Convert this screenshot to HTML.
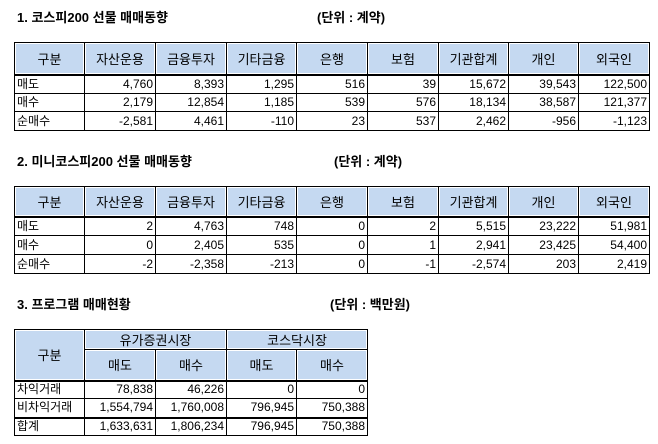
<!DOCTYPE html>
<html><head><meta charset="utf-8"><style>
body{margin:0;width:658px;height:444px;background:#fff;position:relative;overflow:hidden;font-family:"Liberation Sans","Malgun Gothic","Noto Sans CJK KR",sans-serif;color:#000}
.t{position:absolute;font-size:13px;font-weight:bold;white-space:nowrap}
table{position:absolute;border-collapse:collapse;table-layout:fixed;font-size:12px}
td{border:1px solid #000;padding:0 2px;text-align:right;white-space:nowrap;overflow:hidden;line-height:15px}
td.l{text-align:left}
th{border:1px solid #000;background:#c5d9f1;font-weight:normal;font-size:13px;text-align:center;padding:0;box-shadow:inset 0 0 0 1px #fff}
.hb th{border-bottom:2px solid #000}
</style></head><body>
<div class="t" style="left:17px;top:7px">1. 코스피200 선물 매매동향</div>
<div class="t" style="left:317px;top:7px">(단위 : 계약)</div>
<table style="left:14px;top:42px;width:636px">
<colgroup><col style="width:70px"><col style="width:71px"><col style="width:71px"><col style="width:70px"><col style="width:71px"><col style="width:71px"><col style="width:70px"><col style="width:70px"><col style="width:71px"></colgroup>
<tr class="hb" style="height:32px"><th>구분</th><th>자산운용</th><th>금융투자</th><th>기타금융</th><th>은행</th><th>보험</th><th>기관합계</th><th>개인</th><th>외국인</th></tr>
<tr style="height:19px"><td class="l">매도</td><td>4,760</td><td>8,393</td><td>1,295</td><td>516</td><td>39</td><td>15,672</td><td>39,543</td><td>122,500</td></tr>
<tr style="height:18px"><td class="l">매수</td><td>2,179</td><td>12,854</td><td>1,185</td><td>539</td><td>576</td><td>18,134</td><td>38,587</td><td>121,377</td></tr>
<tr style="height:19px"><td class="l">순매수</td><td>-2,581</td><td>4,461</td><td>-110</td><td>23</td><td>537</td><td>2,462</td><td>-956</td><td>-1,123</td></tr>
</table>
<div class="t" style="left:17px;top:151px">2. 미니코스피200 선물 매매동향</div>
<div class="t" style="left:334px;top:151px">(단위 : 계약)</div>
<table style="left:14px;top:186px;width:636px">
<colgroup><col style="width:70px"><col style="width:71px"><col style="width:71px"><col style="width:70px"><col style="width:71px"><col style="width:71px"><col style="width:70px"><col style="width:70px"><col style="width:71px"></colgroup>
<tr class="hb" style="height:30px"><th>구분</th><th>자산운용</th><th>금융투자</th><th>기타금융</th><th>은행</th><th>보험</th><th>기관합계</th><th>개인</th><th>외국인</th></tr>
<tr style="height:19px"><td class="l">매도</td><td>2</td><td>4,763</td><td>748</td><td>0</td><td>2</td><td>5,515</td><td>23,222</td><td>51,981</td></tr>
<tr style="height:19px"><td class="l">매수</td><td>0</td><td>2,405</td><td>535</td><td>0</td><td>1</td><td>2,941</td><td>23,425</td><td>54,400</td></tr>
<tr style="height:19px"><td class="l">순매수</td><td>-2</td><td>-2,358</td><td>-213</td><td>0</td><td>-1</td><td>-2,574</td><td>203</td><td>2,419</td></tr>
</table>
<div class="t" style="left:17px;top:294px">3. 프로그램 매매현황</div>
<div class="t" style="left:330px;top:294px">(단위 : 백만원)</div>
<table style="left:14px;top:329px;width:353px">
<colgroup><col style="width:70px"><col style="width:71px"><col style="width:71px"><col style="width:70px"><col style="width:71px"></colgroup>
<tr style="height:19px"><th rowspan="2" style="border-bottom:2px solid #000">구분</th><th colspan="2">유가증권시장</th><th colspan="2">코스닥시장</th></tr>
<tr class="hb" style="height:31px"><th>매도</th><th>매수</th><th>매도</th><th>매수</th></tr>
<tr style="height:18px"><td class="l">차익거래</td><td>78,838</td><td>46,226</td><td>0</td><td>0</td></tr>
<tr style="height:19px;border-bottom:2px solid #000"><td class="l">비차익거래</td><td>1,554,794</td><td>1,760,008</td><td>796,945</td><td>750,388</td></tr>
<tr style="height:18px"><td class="l">합계</td><td>1,633,631</td><td>1,806,234</td><td>796,945</td><td>750,388</td></tr>
</table>
</body></html>
